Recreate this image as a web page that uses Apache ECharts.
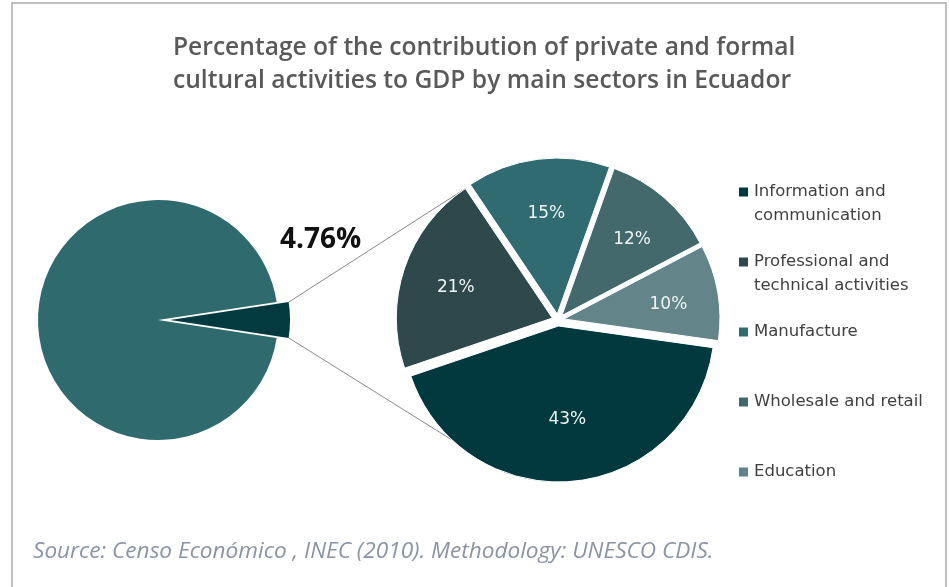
<!DOCTYPE html>
<html>
<head>
<meta charset="utf-8">
<script src="https://cdn.jsdelivr.net/npm/echarts@6/dist/echarts.min.js"></script>
<style>
  html, body { margin: 0; padding: 0; background: #ffffff; }
  #chart { width: 949px; height: 587px; }
</style>
</head>
<body>
<div id="chart"></div>
<script>
// Chart text
const titleLines = [
  'Percentage of the contribution of private and formal',
  'cultural activities to GDP by main sectors in Ecuador'
];
const sourceNote = 'Source: Censo Económico , INEC (2010). Methodology: UNESCO CDIS.';

// GDP split: private and formal cultural activities vs the rest (%)
const gdpNames = ['Private and formal cultural activities', 'Rest of GDP'];
const gdpShares = [4.76, 95.24];

// Breakdown of the cultural share by main sector (%)
const sectorNames = [
  'Information and communication',
  'Professional and technical activities',
  'Manufacture',
  'Wholesale and retail',
  'Education'
];
const sectorShares = [43, 21, 15, 12, 10];
const sectorLegendLines = [
  ['Information and', 'communication'],
  ['Professional and', 'technical activities'],
  ['Manufacture'],
  ['Wholesale and retail'],
  ['Education']
];

// Styling
const sectorColors = ['#01393f', '#2e484b', '#2f6b70', '#43696c', '#63858a'];
const gdpColors = ['#023a40', '#2f6b6e'];

// Pie geometry
const leftCenter = [158, 320], leftRadius = 120, leftOffset = 12;
const rightCenter = [558, 320], rightRadius = 156, rightOffset = 6;
const rightStart = 352;          // first sector begins here, going clockwise
const lowerJoinAngle = 227;      // where the lower connector meets the big sector's arc

const rad = d => d * Math.PI / 180;
const sum = a => a.reduce((s, v) => s + v, 0);

// Left pie: the cultural slice is centred on the 3 o'clock direction
const gdpTotal = sum(gdpShares);
const leftHalf = gdpShares[0] / gdpTotal * 180;

// Connector end points, worked out from the pie geometry
const lx = leftCenter[0] + leftOffset + leftRadius * Math.cos(rad(leftHalf));
const lyTop = leftCenter[1] - leftRadius * Math.sin(rad(leftHalf));
const lyBot = leftCenter[1] + leftRadius * Math.sin(rad(leftHalf));

const sectorTotal = sum(sectorShares);
const sweep = sectorShares.map(v => v / sectorTotal * 360);
const infoMid = rightStart - sweep[0] / 2;
const profStart = rightStart - sweep[0];
const profEnd = profStart - sweep[1];
const profMid = profStart - sweep[1] / 2;
const upperX = rightCenter[0] + rightOffset * Math.cos(rad(profMid)) + rightRadius * Math.cos(rad(profEnd));
const upperY = rightCenter[1] - rightOffset * Math.sin(rad(profMid)) - rightRadius * Math.sin(rad(profEnd));
const lowerX = rightCenter[0] + rightOffset * Math.cos(rad(infoMid)) + rightRadius * Math.cos(rad(lowerJoinAngle));
const lowerY = rightCenter[1] - rightOffset * Math.sin(rad(infoMid)) - rightRadius * Math.sin(rad(lowerJoinAngle));

// One legend block per sector so that each square sits beside the first text line.
// The text is centred on the square, so multi-line entries get a leading blank
// line that keeps their first line level with the square.
const legendFirstLine = 192, legendStep = 70, legendLineHeight = 24;
const legends = sectorNames.map((name, i) => {
  const lines = sectorLegendLines[i];
  const padded = lines.length > 1 ? [''].concat(lines) : lines;
  const c = legendFirstLine + i * legendStep;
  return {
    data: [name],
    orient: 'vertical',
    left: 737,
    top: c - padded.length * legendLineHeight / 2,
    padding: 0,
    itemWidth: 11,
    itemHeight: 11,
    itemGap: 0,
    selectedMode: false,
    icon: 'rect',
    formatter: () => padded.join('\n'),
    textStyle: {
      fontFamily: 'DejaVu Sans',
      fontSize: 16.5,
      color: '#404040',
      lineHeight: legendLineHeight
    }
  };
});

const chart = echarts.init(document.getElementById('chart'), null, { renderer: 'canvas' });

chart.setOption({
  backgroundColor: '#ffffff',
  animation: false,
  title: {
    text: titleLines.join('\n'),
    left: 173,
    top: 31,
    padding: 0,
    textStyle: {
      fontFamily: 'Open Sans',
      fontWeight: 600,
      fontSize: 24.6,
      lineHeight: 33,
      color: '#595959'
    }
  },
  legend: legends,
  series: [
    {
      type: 'pie',
      name: 'GDP',
      center: leftCenter,
      radius: leftRadius,
      startAngle: leftHalf,
      clockwise: true,
      selectedMode: 'multiple',
      selectedOffset: leftOffset,
      silent: true,
      z: 3,
      labelLine: { show: false },
      labelLayout: { dx: -60, dy: -80 },
      data: gdpShares.map((v, i) => ({
        name: gdpNames[i],
        value: v,
        selected: i === 0,
        itemStyle: { color: gdpColors[i] },
        label: i === 0 ? {
          show: true,
          position: 'outside',
          formatter: '{c}%',
          fontFamily: 'Open Sans',
          fontWeight: 700,
          fontSize: 28,
          color: '#111111'
        } : { show: false },
        labelLine: { show: false }
      }))
    },
    {
      type: 'pie',
      name: 'Sectors',
      center: rightCenter,
      radius: rightRadius,
      startAngle: rightStart,
      clockwise: true,
      selectedMode: 'multiple',
      selectedOffset: rightOffset,
      silent: true,
      z: 3,
      itemStyle: { borderColor: '#ffffff', borderWidth: 1 },
      label: { show: false },
      labelLine: { show: false },
      data: sectorShares.map((v, i) => ({
        name: sectorNames[i],
        value: v,
        selected: true,
        itemStyle: { color: sectorColors[i] }
      }))
    },
    {
      // transparent ring that carries the percentage labels
      type: 'pie',
      name: 'Sector labels',
      center: [rightCenter[0] + 2, rightCenter[1] + 3],
      radius: [58, rightRadius],
      startAngle: rightStart,
      clockwise: true,
      silent: true,
      z: 4,
      avoidLabelOverlap: false,
      itemStyle: { color: 'rgba(0,0,0,0)' },
      label: {
        show: true,
        position: 'inside',
        formatter: '{c}%',
        fontFamily: 'DejaVu Sans',
        fontSize: 17,
        color: '#eef4f4',
        textBorderWidth: 0
      },
      labelLine: { show: false },
      // the wide sector's label sits a little nearer the middle
      labelLayout: function (p) {
        return p.dataIndex === 0 ? { dy: -13, dx: -3 } : {};
      },
      data: sectorShares.map((v, i) => ({ name: sectorNames[i], value: v }))
    }
  ],
  graphic: [
    {
      type: 'rect',
      z: -1,
      shape: { x: 12, y: 3, width: 934, height: 600 },
      style: { fill: '#ffffff', stroke: '#c0c0c0', lineWidth: 2 }
    },
    {
      type: 'line',
      z: 1,
      shape: { x1: lx, y1: lyTop, x2: upperX, y2: upperY },
      style: { stroke: '#8a8a8a', lineWidth: 1 }
    },
    {
      type: 'line',
      z: 1,
      shape: { x1: lx, y1: lyBot, x2: lowerX, y2: lowerY },
      style: { stroke: '#8a8a8a', lineWidth: 1 }
    },
    {
      type: 'text',
      left: 33,
      top: 540,
      style: {
        text: sourceNote,
        fontFamily: 'Open Sans',
        fontStyle: 'italic',
        fontSize: 22.6,
        fill: '#8a94a3'
      }
    }
  ]
});
</script>
</body>
</html>
